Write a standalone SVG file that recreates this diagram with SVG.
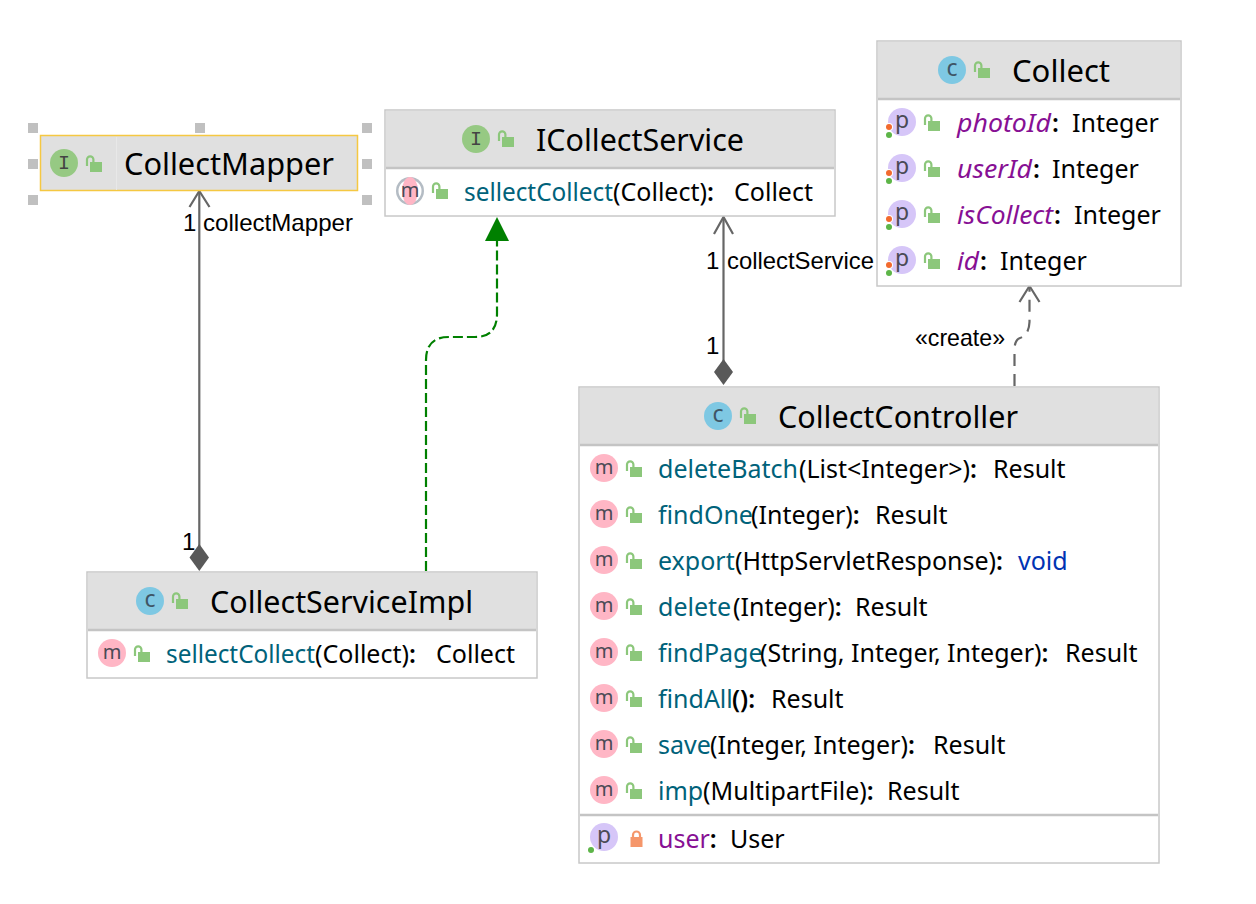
<svg xmlns="http://www.w3.org/2000/svg" width="1256" height="904" viewBox="0 0 1256 904">
<style>
text{font-family:"Noto Sans","Open Sans","Liberation Sans",sans-serif;fill:#000;white-space:pre}
.t{font-size:31px}
.r{font-size:25px}
.l{font-family:"Liberation Sans",Arial,sans-serif;font-size:24px}
.teal{fill:#00627a}
.pur{fill:#871094}
.blue{fill:#0033b3}
.it{font-style:italic}
.b{font-weight:600}
.box{fill:#fff;stroke:#c8c8c8;stroke-width:1.500}
.hd{fill:#e0e0e0}
.sep{stroke:#c4c4c4;stroke-width:2.500}
.im{font-size:20px;fill:#4a4a55;text-anchor:middle}
.ip{font-size:23px;fill:#4a4a55;text-anchor:middle}
.ic{font-size:23px;fill:#3f5566;text-anchor:middle}
.ii{font-family:"Liberation Mono",monospace;font-size:20px;fill:#444;text-anchor:middle}
.gh{fill:#c0c0c0}
.conn{fill:none;stroke:#666;stroke-width:2.200}
</style>
<defs>
<g id="lock"><path d="M-3 4V-2.500a3.200 3.200 0 0 1 6.400 0V0" fill="none" stroke="#8cc77b" stroke-width="2.200"/><rect x="0" y="0" width="12" height="10" fill="#8cc77b"/></g>
<g id="plock"><path d="M-3.500 2V-2a3.500 3.500 0 0 1 7 0V2" fill="none" stroke="#f5966a" stroke-width="2.200"/><rect x="-6" y="0" width="12" height="10" fill="#f5966a"/></g>
<circle id="cm" r="14" fill="#ffb6c5"/>
<circle id="cp" r="14" fill="#d6c6f8"/>
<circle id="cc" r="14" fill="#7ec8e3"/>
<circle id="ci" r="14" fill="#96c983"/>
<g id="dots"><circle cx="-13" cy="5" r="4" fill="#fff"/><circle cx="-13" cy="13" r="4" fill="#fff"/><circle cx="-13" cy="5" r="3" fill="#f26a2e"/><circle cx="-13" cy="13" r="3" fill="#5db548"/></g>
</defs>

<g id="connectors">
<path class="conn" d="M199.300 192V546"/>
<path class="conn" d="M189.500 207L199.300 191L209.500 207"/>
<path d="M199.300 544L209 557.500L199.300 571L189.500 557.500Z" fill="#595959"/>
<path class="conn" d="M723.500 218V361"/>
<path class="conn" d="M714 234L723.500 217L733 234"/>
<path d="M723.500 359L733 372L723.500 385L714 372Z" fill="#595959"/>
<path d="M426 571V360Q426 337 449 337H475Q497 337 497 314V238" fill="none" stroke="#008000" stroke-width="2.200" stroke-dasharray="10 4"/>
<path d="M497 217L509 241H485Z" fill="#008000"/>
<path d="M1014.500 386V350Q1014.500 340 1020 338Q1029 335 1029.500 322V288" fill="none" stroke="#666" stroke-width="2.200" stroke-dasharray="12 8"/>
<path class="conn" d="M1019.500 302L1029.500 286L1039.500 302"/>
<text class="l" x="183" y="231">1</text>
<text class="l" x="203" y="231" textLength="150" lengthAdjust="spacingAndGlyphs">collectMapper</text>
<text class="l" x="182" y="550">1</text>
<text class="l" x="706" y="269">1</text>
<text class="l" x="727" y="269" textLength="147" lengthAdjust="spacingAndGlyphs">collectService</text>
<text class="l" x="706" y="354">1</text>
<text class="l" x="915" y="346" textLength="90" lengthAdjust="spacingAndGlyphs">«create»</text>
</g>

<g id="CollectMapper">
<rect x="40.500" y="135.500" width="317" height="55" fill="#e0e0e0" stroke="#f5c842" stroke-width="1.500"/>
<path d="M116.500 137V190" stroke="#e8e8e8" stroke-width="1"/>
<rect class="gh" x="28" y="123" width="10" height="10"/><rect class="gh" x="195" y="123" width="10" height="10"/><rect class="gh" x="362" y="123" width="10" height="10"/>
<rect class="gh" x="28" y="159" width="10" height="10"/><rect class="gh" x="362" y="159" width="10" height="10"/>
<rect class="gh" x="28" y="195" width="10" height="10"/><rect class="gh" x="362" y="195" width="10" height="10"/>
<use href="#ci" x="64" y="163"/><text class="ii" x="64" y="169">I</text>
<use href="#lock" x="90" y="162"/>
<text class="t" x="124" y="175" textLength="210" lengthAdjust="spacingAndGlyphs">CollectMapper</text>
</g>

<g id="ICollectService">
<rect class="box" x="385" y="110" width="450" height="106"/>
<rect class="hd" x="386" y="111" width="448" height="57"/>
<path class="sep" d="M386 168H834"/>
<use href="#ci" x="476" y="139"/><text class="ii" x="476" y="145">I</text>
<use href="#lock" x="502" y="137"/>
<text class="t" x="536" y="151" textLength="208" lengthAdjust="spacingAndGlyphs">ICollectService</text>
<circle cx="410" cy="191" r="14" fill="#b4bcc4"/><circle cx="410" cy="191" r="11.500" fill="#fff"/>
<ellipse cx="410" cy="191" rx="8" ry="14" fill="#ffb6c5"/>
<text class="im" x="410" y="197">m</text>
<use href="#lock" x="436" y="189"/>
<text class="r" x="464" y="201"><tspan class="teal" textLength="149" lengthAdjust="spacingAndGlyphs">sellectCollect</tspan><tspan x="613">(Collect)</tspan><tspan class="b">:</tspan><tspan x="734">Collect</tspan></text>
</g>

<g id="Collect">
<rect class="box" x="877" y="41" width="304" height="245"/>
<rect class="hd" x="878" y="42" width="302" height="57"/>
<path class="sep" d="M878 99H1180"/>
<use href="#cc" x="952" y="70"/><text class="ic" x="952" y="76">c</text>
<use href="#lock" x="978" y="68"/>
<text class="t" x="1012" y="82" textLength="98" lengthAdjust="spacingAndGlyphs">Collect</text>
<g><use href="#cp" x="902" y="122"/><text class="ip" x="902" y="128">p</text><use href="#dots" x="902" y="122"/><use href="#lock" x="928" y="121"/>
<text class="r" x="957" y="132"><tspan class="pur it" textLength="94" lengthAdjust="spacingAndGlyphs">photoId</tspan><tspan class="b" x="1052">:</tspan><tspan x="1072">Integer</tspan></text></g>
<g><use href="#cp" x="902" y="168"/><text class="ip" x="902" y="174">p</text><use href="#dots" x="902" y="168"/><use href="#lock" x="928" y="167"/>
<text class="r" x="957" y="178"><tspan class="pur it" textLength="75" lengthAdjust="spacingAndGlyphs">userId</tspan><tspan class="b" x="1033">:</tspan><tspan x="1052">Integer</tspan></text></g>
<g><use href="#cp" x="902" y="214"/><text class="ip" x="902" y="220">p</text><use href="#dots" x="902" y="214"/><use href="#lock" x="928" y="213"/>
<text class="r" x="957" y="224"><tspan class="pur it" textLength="96" lengthAdjust="spacingAndGlyphs">isCollect</tspan><tspan class="b" x="1054">:</tspan><tspan x="1074">Integer</tspan></text></g>
<g><use href="#cp" x="902" y="260"/><text class="ip" x="902" y="266">p</text><use href="#dots" x="902" y="260"/><use href="#lock" x="928" y="259"/>
<text class="r" x="957" y="270"><tspan class="pur it" textLength="22" lengthAdjust="spacingAndGlyphs">id</tspan><tspan class="b" x="980">:</tspan><tspan x="1000">Integer</tspan></text></g>
</g>

<g id="CollectController">
<rect class="box" x="579" y="387" width="580" height="476"/>
<rect class="hd" x="580" y="388" width="578" height="57"/>
<path class="sep" d="M580 445H1158"/>
<path class="sep" d="M580 815H1158"/>
<use href="#cc" x="718" y="416"/><text class="ic" x="718" y="422">c</text>
<use href="#lock" x="744" y="414"/>
<text class="t" x="778" y="428" textLength="240" lengthAdjust="spacingAndGlyphs">CollectController</text>
<g><use href="#cm" x="604" y="468"/><text class="im" x="604" y="474">m</text><use href="#lock" x="630" y="467"/>
<text class="r" x="658" y="478"><tspan class="teal">deleteBatch</tspan><tspan x="799">(List&lt;Integer&gt;)</tspan><tspan class="b">:</tspan><tspan x="993">Result</tspan></text></g>
<g><use href="#cm" x="604" y="514"/><text class="im" x="604" y="520">m</text><use href="#lock" x="630" y="513"/>
<text class="r" x="658" y="524"><tspan class="teal">findOne</tspan><tspan x="751">(Integer)</tspan><tspan class="b">:</tspan><tspan x="875">Result</tspan></text></g>
<g><use href="#cm" x="604" y="560"/><text class="im" x="604" y="566">m</text><use href="#lock" x="630" y="559"/>
<text class="r" x="658" y="570"><tspan class="teal">export</tspan><tspan x="735">(HttpServletResponse)</tspan><tspan class="b">:</tspan><tspan class="blue" x="1018">void</tspan></text></g>
<g><use href="#cm" x="604" y="606"/><text class="im" x="604" y="612">m</text><use href="#lock" x="630" y="605"/>
<text class="r" x="658" y="616"><tspan class="teal">delete</tspan><tspan x="733">(Integer)</tspan><tspan class="b">:</tspan><tspan x="855">Result</tspan></text></g>
<g><use href="#cm" x="604" y="652"/><text class="im" x="604" y="658">m</text><use href="#lock" x="630" y="651"/>
<text class="r" x="658" y="662"><tspan class="teal">findPage</tspan><tspan x="760">(String, Integer, Integer)</tspan><tspan class="b">:</tspan><tspan x="1065">Result</tspan></text></g>
<g><use href="#cm" x="604" y="698"/><text class="im" x="604" y="704">m</text><use href="#lock" x="630" y="697"/>
<text class="r" x="658" y="708"><tspan class="teal">findAll</tspan><tspan class="b" x="732">():</tspan><tspan x="771">Result</tspan></text></g>
<g><use href="#cm" x="604" y="744"/><text class="im" x="604" y="750">m</text><use href="#lock" x="630" y="743"/>
<text class="r" x="658" y="754"><tspan class="teal">save</tspan><tspan x="710">(Integer, Integer)</tspan><tspan class="b">:</tspan><tspan x="933">Result</tspan></text></g>
<g><use href="#cm" x="604" y="790"/><text class="im" x="604" y="796">m</text><use href="#lock" x="630" y="789"/>
<text class="r" x="658" y="800"><tspan class="teal">imp</tspan><tspan x="703">(MultipartFile)</tspan><tspan class="b">:</tspan><tspan x="887">Result</tspan></text></g>
<g><use href="#cp" x="604" y="837"/><text class="ip" x="604" y="843">p</text><circle cx="591" cy="850" r="4" fill="#fff"/><circle cx="591" cy="850" r="3" fill="#5db548"/><use href="#plock" x="636.500" y="837"/>
<text class="r" x="658" y="848"><tspan class="pur">user</tspan><tspan class="b">:</tspan><tspan x="730">User</tspan></text></g>
</g>

<g id="CollectServiceImpl">
<rect class="box" x="87" y="572" width="450" height="106"/>
<rect class="hd" x="88" y="573" width="448" height="57"/>
<path class="sep" d="M88 630H536"/>
<use href="#cc" x="150" y="601"/><text class="ic" x="150" y="607">c</text>
<use href="#lock" x="176" y="599"/>
<text class="t" x="210" y="613" textLength="263" lengthAdjust="spacingAndGlyphs">CollectServiceImpl</text>
<use href="#cm" x="112" y="653"/><text class="im" x="112" y="659">m</text><use href="#lock" x="138" y="652"/>
<text class="r" x="166" y="663"><tspan class="teal" textLength="149" lengthAdjust="spacingAndGlyphs">sellectCollect</tspan><tspan x="315">(Collect)</tspan><tspan class="b">:</tspan><tspan x="436">Collect</tspan></text>
</g>
</svg>
